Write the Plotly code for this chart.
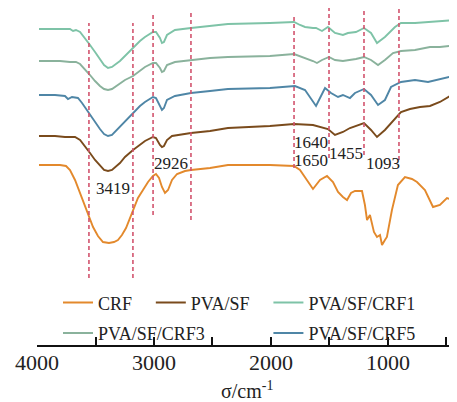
import plotly.graph_objects as go

# ---------------- data (wavenumber cm^-1, transmittance a.u., stacked) ----------------
crf_wn = [3983, 3803, 3752, 3718, 3675, 3632, 3581, 3521, 3479, 3436,
          3385, 3342, 3308, 3274, 3239, 3179, 3137, 3094, 3051, 3009,
          2983, 2957, 2932, 2906, 2880, 2846, 2803, 2735, 2684, 2521,
          2368, 2009, 1803, 1752, 1709, 1667, 1641, 1581, 1521, 1470,
          1427, 1385, 1350, 1316, 1282, 1222, 1197, 1179, 1154, 1120,
          1094, 1068, 1051, 1026, 1009, 966, 915, 855, 795, 752,
          684, 615, 556, 496, 453, 410]
crf_t = [180, 180, 179, 175, 165, 152, 135, 118, 109, 103,
         102, 103, 105, 110, 117, 135, 147, 155, 163, 169,
         171, 167, 158, 152, 155, 165, 171, 174, 175, 177,
         180, 180, 179, 175, 168, 161, 156, 165, 169, 163,
         153, 148, 145, 152, 154, 154, 140, 125, 130, 113,
         108, 110, 100, 105, 108, 135, 160, 168, 166, 163,
         155, 138, 140, 147, 145, 150]

pvasf_wn = [3983, 3846, 3761, 3718, 3675, 3632, 3590, 3547, 3504, 3462,
            3427, 3393, 3359, 3291, 3248, 3179, 3120, 3077, 3009, 2983,
            2949, 2932, 2915, 2889, 2846, 2684, 2521, 2368, 2009, 1803,
            1641, 1513, 1453, 1385, 1325, 1205, 1145, 1094, 1026, 940,
            889, 812, 726, 641, 556, 470, 410]
pvasf_t = [209, 209, 208, 208, 208, 205, 199, 192, 185, 179,
           175, 174, 175, 182, 188, 195, 200, 204, 208, 207,
           200, 198, 199, 205, 209, 212, 214, 217, 219, 221,
           220, 216, 210, 213, 217, 222, 215, 208, 215, 227,
           233, 236, 238, 239, 243, 249, 248]

crf5_wn = [3983, 3846, 3761, 3735, 3701, 3650, 3615, 3564, 3504, 3462,
           3427, 3393, 3359, 3291, 3248, 3179, 3120, 3077, 3009, 2983,
           2949, 2932, 2915, 2889, 2821, 2684, 2521, 2368, 2009, 1795,
           1709, 1667, 1615, 1581, 1538, 1487, 1427, 1385, 1325, 1282,
           1205, 1145, 1085, 1026, 974, 889, 769, 658, 513, 410]
crf5_t = [250, 250, 249, 246, 248, 247, 242, 233, 223, 216,
          211, 209, 210, 218, 224, 232, 239, 243, 248, 247,
          239, 235, 237, 245, 249, 252, 254, 256, 257, 259,
          255, 248, 239, 247, 257, 252, 248, 250, 247, 252,
          256, 250, 240, 245, 258, 263, 265, 263, 267, 270]

crf3_wn = [3983, 3803, 3718, 3667, 3632, 3590, 3547, 3504, 3462, 3427,
           3393, 3359, 3291, 3248, 3179, 3120, 3077, 3009, 2983, 2949,
           2932, 2915, 2889, 2821, 2684, 2521, 2368, 2009, 1803, 1752,
           1709, 1641, 1607, 1564, 1504, 1453, 1385, 1325, 1274, 1205,
           1145, 1085, 1026, 957, 889, 769, 641, 556, 410]
crf3_t = [284, 284, 283, 283, 281, 276, 270, 264, 259, 256,
          255, 256, 261, 265, 269, 274, 278, 282, 282, 277,
          273, 274, 280, 283, 285, 287, 288, 289, 291, 289,
          287, 284, 282, 285, 288, 285, 284, 285, 286, 288,
          285, 280, 285, 292, 294, 295, 298, 298, 300]

crf1_wn = [3983, 3803, 3718, 3692, 3667, 3632, 3590, 3547, 3504, 3462,
           3427, 3393, 3359, 3291, 3248, 3179, 3120, 3077, 3009, 2983,
           2949, 2932, 2915, 2889, 2821, 2684, 2521, 2368, 2009, 1803,
           1752, 1709, 1641, 1615, 1564, 1513, 1453, 1385, 1342, 1274,
           1205, 1145, 1094, 1026, 940, 889, 769, 658, 410]
crf1_t = [316, 316, 316, 314, 315, 313, 307, 300, 293, 286,
          280, 277, 278, 284, 289, 298, 304, 308, 313, 313,
          307, 302, 303, 310, 315, 317, 319, 321, 322, 323,
          320, 318, 317, 317, 314, 318, 312, 310, 312, 313,
          317, 312, 302, 308, 318, 322, 322, 323, 325]

# reference dashed lines
dash_wn = [3556, 3180, 3008, 2684, 1803, 1504, 1205, 906]
dash_top = [322, 322, 331, 335, 331, 339, 340, 340]
dash_bottom = [67, 67, 130, 125, 177, 187, 190, 185]

# peak labels
peak_text = ["3419", "2926", "1640", "1650", "1455", "1093"]
peak_wn = [3350, 2855, 1658, 1658, 1359, 1043]
peak_t = [157, 182, 203, 185, 192, 182]

tick_vals = [4000, 3500, 3000, 2500, 2000, 1500, 1000, 500]
tick_text = ["4000", "", "3000", "", "2000", "", "1000", ""]

SERIF = "Liberation Serif"

fig = go.Figure()

series = [
    ("CRF", crf_wn, crf_t, "#E3892C", "legend", "g1"),
    ("PVA/SF/CRF3", crf3_wn, crf3_t, "#8AB29C", "legend", "g2"),
    ("PVA/SF", pvasf_wn, pvasf_t, "#7A4B1C", "legend2", "g3"),
    ("PVA/SF/CRF1", crf1_wn, crf1_t, "#7EC3A7", "legend3", "g4"),
    ("PVA/SF/CRF5", crf5_wn, crf5_t, "#4F86A6", "legend3", "g5"),
]
for name, xs, ys, col, lg, grp in series:
    fig.add_trace(go.Scatter(x=xs, y=ys, mode="lines", name=name,
                             line=dict(color=col, width=1.9),
                             legend=lg, legendgroup=grp))

for wn, top, bot in zip(dash_wn, dash_top, dash_bottom):
    fig.add_shape(type="line", xref="x", yref="y", x0=wn, x1=wn, y0=bot, y1=top,
                  line=dict(color="#D2546E", width=1.6, dash="4px,3px"), layer="above")

for txt, wn, t in zip(peak_text, peak_wn, peak_t):
    fig.add_annotation(x=wn, y=t, text=txt, showarrow=False,
                       font=dict(family=SERIF, size=17, color="#222222"))

fig.add_annotation(xref="paper", yref="paper", x=0.5, y=-0.134, yanchor="middle",
                   text="σ/cm<sup>-1</sup>", showarrow=False,
                   font=dict(family=SERIF, size=20, color="#222222"))

leg_common = dict(font=dict(family=SERIF, size=18, color="#222222"),
                  bgcolor="rgba(0,0,0,0)", yanchor="top", xanchor="left",
                  tracegroupgap=4, orientation="v")

fig.update_layout(
    width=449, height=394,
    margin=dict(l=29, r=0, t=0, b=57, autoexpand=False),
    paper_bgcolor="white", plot_bgcolor="white",
    showlegend=True,
    legend=dict(x=0.05, y=0.18, **leg_common),
    legend2=dict(x=0.271, y=0.18, **leg_common),
    legend3=dict(x=0.551, y=0.18, **leg_common),
    xaxis=dict(range=[4000, 410], showline=True, linecolor="#111111", linewidth=1.6,
               ticks="inside", ticklen=8, tickwidth=1.6, tickcolor="#111111",
               tickvals=tick_vals, ticktext=tick_text, showgrid=False, zeroline=False,
               automargin=False, ticklabelstandoff=-3,
               tickfont=dict(family=SERIF, size=22, color="#222222")),
    yaxis=dict(range=[0, 337], visible=False, showgrid=False, zeroline=False,
               automargin=False),
)

fig.write_html("out.html")
